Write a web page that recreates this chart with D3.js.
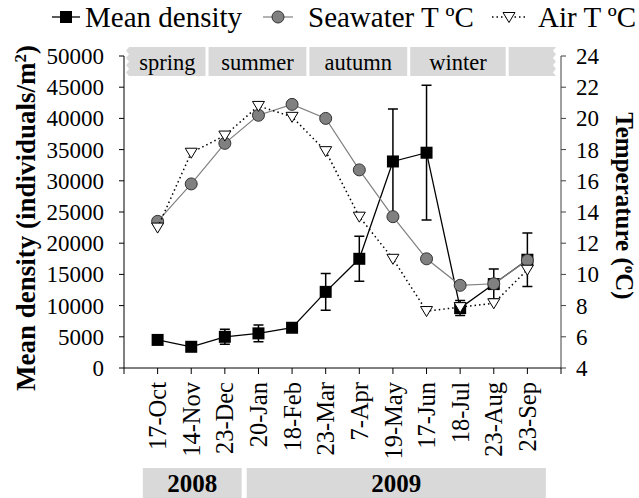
<!DOCTYPE html>
<meta charset="utf-8">
<title>Mean density and temperature</title>
<script src="https://d3js.org/d3.v7.min.js"></script>
<style>
    body { margin: 0; background: #fff; }
</style>
<body>
<script>
    // sampling dates
    let dates = ["17-Oct", "14-Nov", "23-Dec", "20-Jan", "18-Feb", "23-Mar",
                 "7-Apr", "19-May", "17-Jun", "18-Jul", "23-Aug", "23-Sep"];
    // mean density (individuals/m2) and its error
    let density    = [4500, 3400, 5000, 5550, 6450, 12200, 17500, 33100, 34500, 9600, 13450, 17350];
    let densityErr = [300, 250, 1200, 1350, 500, 2950, 3600, 8400, 10800, 1200, 2400, 4300];
    // temperatures (degC)
    let seawater = [13.4, 15.8, 18.4, 20.2, 20.9, 20.0, 16.7, 13.7, 11.0, 9.3, 9.4, 10.9];
    let airT     = [13.0, 17.8, 18.9, 20.8, 20.1, 17.9, 13.7, 11.0, 7.65, 7.9, 8.15, 10.3];
    // season strip, bounds in date-slot units
    let seasons      = ["spring", "summer", "autumn", "winter", ""];
    let seasonBounds = [0.15, 2.47, 5.47, 8.47, 11.4, 12.85];
    // year strip
    let years      = ["2008", "2009"];
    let yearBounds = [[0.56, 3.5], [3.65, 12.55]];
    let leftTicks  = d3.range(0, 50001, 5000);
    let rightTicks = d3.range(4, 25, 2);

    const W = 639, H = 498;
    const mLeft = 124, mRight = 561, mTop = 56, mBottom = 368;

    let svg = d3.select("body").append("svg").attr("width", W).attr("height", H)
        .attr("font-family", "'Liberation Serif', 'Times New Roman', 'DejaVu Serif', serif");

    let x = d3.scalePoint().domain(dates).range([mLeft, mRight]).padding(1);
    let slot = d3.scaleLinear().domain([0, 13]).range([mLeft, mRight]);
    let yL = d3.scaleLinear().domain([0, 50000]).range([mBottom, mTop]);
    let yR = d3.scaleLinear().domain([4, 24]).range([mBottom, mTop]);

    // season strip
    let sg = svg.append("g");
    seasons.forEach((s, i) => {
        let x0 = slot(seasonBounds[i]) + (i ? 1.5 : 0);
        let x1 = slot(seasonBounds[i + 1]) - (i < seasons.length - 1 ? 1.5 : 0);
        let y0 = 47, y1 = 76;
        let p = d3.path();
        p.moveTo(x0, y0); p.lineTo(x1, y0);
        if (i == seasons.length - 1) {
            // wavy right edge
            let n = 4, h = (y1 - y0) / n;
            for (let k = 0; k < n; k++) { p.lineTo(x1 - 3, y0 + h * (k + 0.5)); p.lineTo(x1, y0 + h * (k + 1)); }
        } else p.lineTo(x1, y1);
        p.lineTo(x0, y1);
        if (i == 0) {
            let n = 4, h = (y1 - y0) / n;
            for (let k = n - 1; k >= 0; k--) { p.lineTo(x0 - 3, y0 + h * (k + 0.5)); p.lineTo(x0, y0 + h * k); }
        }
        p.closePath();
        sg.append("path").attr("d", p.toString()).attr("fill", "#d9d9d9");
        sg.append("text").attr("x", (x0 + x1) / 2).attr("y", 70)
            .attr("text-anchor", "middle").attr("font-size", 22.5).text(s);
    });

    // axes
    let ax = svg.append("g").attr("stroke", "#000").attr("fill", "none");
    ax.append("line").attr("x1", mLeft).attr("x2", mLeft).attr("y1", mTop).attr("y2", mBottom);
    ax.append("line").attr("x1", mRight).attr("x2", mRight).attr("y1", mTop).attr("y2", mBottom).attr("stroke", "#404040");
    ax.append("line").attr("x1", mLeft).attr("x2", mRight).attr("y1", mBottom).attr("y2", mBottom);
    leftTicks.forEach(v => ax.append("line").attr("x1", mLeft - 5).attr("x2", mLeft).attr("y1", yL(v)).attr("y2", yL(v)));
    rightTicks.forEach(v => ax.append("line").attr("x1", mRight).attr("x2", mRight + 5).attr("y1", yR(v)).attr("y2", yR(v)).attr("stroke", "#404040"));
    d3.range(0, 14).forEach(k => ax.append("line").attr("x1", slot(k)).attr("x2", slot(k)).attr("y1", mBottom).attr("y2", mBottom + 6));

    svg.append("g").selectAll("text").data(leftTicks).join("text")
        .attr("x", mLeft - 20).attr("y", d => yL(d)).attr("dy", "0.35em")
        .attr("text-anchor", "end").attr("font-size", 23).text(d => d);
    svg.append("g").selectAll("text").data(rightTicks).join("text")
        .attr("x", mRight + 15).attr("y", d => yR(d)).attr("dy", "0.35em")
        .attr("font-size", 23).text(d => d);
    svg.append("g").selectAll("text").data(dates).join("text")
        .attr("transform", d => `translate(${x(d)},382) rotate(-90)`).attr("dy", "0.35em")
        .attr("text-anchor", "end").attr("font-size", 24.5).text(d => d);

    // axis titles
    svg.append("text").attr("transform", "translate(26,218) rotate(-90)").attr("dy", "0.35em")
        .attr("text-anchor", "middle").attr("font-size", 27).attr("font-weight", "bold")
        .html("Mean density (individuals/m<tspan dy='-9' font-size='17'>2</tspan><tspan dy='9'>)</tspan>");
    svg.append("text").attr("transform", "translate(625,206) rotate(90)").attr("dy", "0.35em")
        .attr("text-anchor", "middle").attr("font-size", 25).attr("font-weight", "bold")
        .html("Temperature (<tspan dy='-9' font-size='15'>o</tspan><tspan dy='9'>C)</tspan>");

    // year strip
    years.forEach((yr, i) => {
        let x0 = slot(yearBounds[i][0]), x1 = slot(yearBounds[i][1]);
        svg.append("rect").attr("x", x0).attr("y", 468).attr("width", x1 - x0).attr("height", 32).attr("fill", "#d9d9d9");
        svg.append("text").attr("x", (x0 + x1) / 2).attr("y", 492).attr("text-anchor", "middle")
            .attr("font-size", 25).attr("font-weight", "bold").text(yr);
    });

    // density series
    let dg = svg.append("g");
    dg.append("path").datum(density).attr("fill", "none").attr("stroke", "#000").attr("stroke-width", 1.3)
        .attr("d", d3.line().x((d, i) => x(dates[i])).y(d => yL(d)));
    dates.forEach((dt, i) => {
        let cx = x(dt), t = yL(density[i] + densityErr[i]), b = yL(density[i] - densityErr[i]);
        dg.append("path").attr("stroke", "#000").attr("stroke-width", 1.5).attr("fill", "none")
            .attr("d", `M${cx},${t}V${b}M${cx - 5},${t}H${cx + 5}M${cx - 5},${b}H${cx + 5}`);
    });
    dg.selectAll("rect").data(density).join("rect")
        .attr("x", (d, i) => x(dates[i]) - 6).attr("y", d => yL(d) - 6)
        .attr("width", 12).attr("height", 12).attr("fill", "#000");

    // seawater series
    let wg = svg.append("g");
    wg.append("path").datum(seawater).attr("fill", "none").attr("stroke", "#808080").attr("stroke-width", 1.2)
        .attr("d", d3.line().x((d, i) => x(dates[i])).y(d => yR(d)));
    wg.selectAll("circle").data(seawater).join("circle")
        .attr("cx", (d, i) => x(dates[i])).attr("cy", d => yR(d)).attr("r", 6)
        .attr("fill", "#808080").attr("stroke", "#333").attr("stroke-width", 1);

    // air series
    let tri = "M-6,-4.5L6,-4.5L0,5.5Z";
    let agp = svg.append("g");
    agp.append("path").datum(airT).attr("fill", "none").attr("stroke", "#000").attr("stroke-width", 1.5)
        .attr("stroke-dasharray", "1.5,3")
        .attr("d", d3.line().x((d, i) => x(dates[i])).y(d => yR(d)));
    agp.selectAll(".tri").data(airT).join("path").attr("class", "tri")
        .attr("transform", (d, i) => `translate(${x(dates[i])},${yR(d)})`)
        .attr("d", tri).attr("fill", "#fff").attr("stroke", "#000").attr("stroke-width", 1);

    // legend
    let lg = svg.append("g");
    let ly = 17, lfs = 29;
    lg.append("line").attr("x1", 52).attr("x2", 80).attr("y1", ly).attr("y2", ly).attr("stroke", "#000").attr("stroke-width", 1.3);
    lg.append("rect").attr("x", 60).attr("y", ly - 6).attr("width", 12).attr("height", 12);
    lg.append("text").attr("x", 85).attr("y", ly).attr("dy", "0.33em").attr("font-size", lfs).text("Mean density");
    lg.append("line").attr("x1", 263).attr("x2", 293).attr("y1", ly).attr("y2", ly).attr("stroke", "#808080").attr("stroke-width", 1.2);
    lg.append("circle").attr("cx", 278).attr("cy", ly).attr("r", 6).attr("fill", "#808080").attr("stroke", "#333");
    lg.append("text").attr("x", 308).attr("y", ly).attr("dy", "0.33em").attr("font-size", lfs).text("Seawater T ºC");
    lg.append("line").attr("x1", 492).attr("x2", 526).attr("y1", ly).attr("y2", ly).attr("stroke", "#000")
        .attr("stroke-width", 1.5).attr("stroke-dasharray", "1.5,3");
    lg.append("path").attr("transform", `translate(509,${ly})`).attr("d", tri).attr("fill", "#fff").attr("stroke", "#000");
    lg.append("text").attr("x", 538).attr("y", ly).attr("dy", "0.33em").attr("font-size", lfs).text("Air T ºC");
</script>
</body>
